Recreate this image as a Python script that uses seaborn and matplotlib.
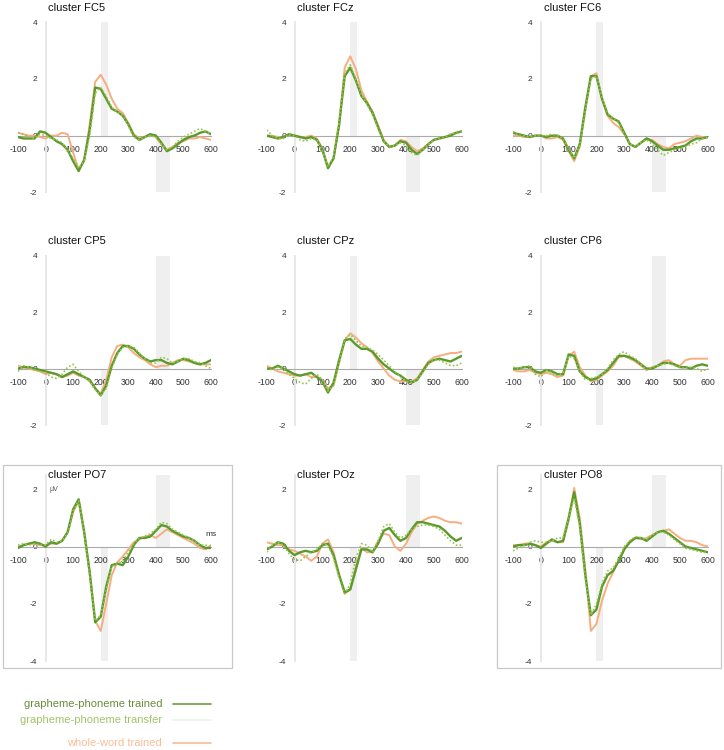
import matplotlib
matplotlib.use('Agg')
import pandas as pd
import matplotlib.pyplot as plt
from matplotlib.lines import Line2D
from matplotlib.patches import Rectangle
import seaborn as sns

# time axis (ms), one sample every 20 ms
times = list(range(-100, 601, 20))

# ERP amplitudes (uV), per cluster and condition
fc5_trained = [-0.05, -0.1, -0.1, -0.1, 0.15, 0.1, -0.05, -0.2, -0.3, -0.5, -0.9, -1.25,
               -0.85, 0.2, 1.7, 1.65, 1.3, 0.95, 0.85, 0.7, 0.4, 0.0, -0.15, -0.05,
               0.05, 0.0, -0.25, -0.55, -0.45, -0.3, -0.15, -0.05, 0.0, 0.1, 0.15, 0.05]
fc5_transfer = [0.1, 0.05, -0.05, -0.1, 0.05, 0.0, -0.1, -0.15, -0.25, -0.5, -0.8, -1.15,
                -0.9, 0.0, 1.5, 1.7, 1.4, 1.0, 0.85, 0.7, 0.35, -0.05, -0.15, -0.05,
                0.0, -0.05, -0.3, -0.5, -0.4, -0.2, -0.05, 0.05, 0.15, 0.25, 0.15, 0.05]
fc5_whole = [0.1, 0.05, 0.0, 0.0, -0.05, -0.1, 0.0, 0.0, 0.1, 0.05, -0.6, -1.2,
             -0.9, 0.4, 1.9, 2.15, 1.8, 1.3, 0.95, 0.8, 0.45, 0.05, -0.1, -0.05,
             0.05, -0.05, -0.3, -0.5, -0.4, -0.25, -0.2, -0.1, -0.1, -0.05, -0.1, -0.15]

fcz_trained = [0.0, -0.05, -0.1, -0.05, 0.05, 0.0, -0.05, -0.1, -0.05, -0.15, -0.5, -1.15,
               -0.8, 0.4, 2.1, 2.4, 1.95, 1.4, 1.15, 0.8, 0.3, -0.2, -0.4, -0.35,
               -0.2, -0.25, -0.5, -0.65, -0.5, -0.3, -0.15, -0.1, -0.05, 0.0, 0.1, 0.15]
fcz_transfer = [0.2, 0.0, -0.1, -0.1, 0.05, 0.0, -0.15, -0.2, -0.1, -0.15, -0.55, -1.1,
                -0.75, 0.5, 2.2, 2.5, 2.0, 1.45, 1.1, 0.75, 0.25, -0.2, -0.4, -0.35,
                -0.25, -0.35, -0.6, -0.7, -0.5, -0.3, -0.15, -0.1, -0.05, 0.05, 0.1, 0.15]
fcz_whole = [0.0, 0.0, -0.05, -0.05, 0.05, 0.0, -0.05, -0.05, 0.0, -0.1, -0.45, -1.1,
             -0.8, 0.35, 2.4, 2.8, 2.35, 1.6, 1.2, 0.85, 0.35, -0.15, -0.4, -0.35,
             -0.15, -0.2, -0.4, -0.55, -0.45, -0.3, -0.15, -0.1, -0.05, 0.05, 0.1, 0.15]

fc6_trained = [0.1, 0.05, 0.0, -0.05, 0.0, 0.0, -0.05, 0.0, 0.0, -0.1, -0.5, -0.8,
               -0.3, 1.0, 2.1, 2.1, 1.3, 0.75, 0.6, 0.5, 0.1, -0.3, -0.4, -0.25,
               -0.1, -0.2, -0.35, -0.5, -0.5, -0.45, -0.4, -0.35, -0.2, -0.1, -0.1, -0.05]
fc6_transfer = [0.15, 0.0, 0.0, -0.05, 0.0, 0.0, 0.0, 0.05, 0.0, -0.1, -0.45, -0.8,
                -0.35, 0.9, 2.0, 2.1, 1.35, 0.8, 0.6, 0.45, 0.05, -0.3, -0.4, -0.25,
                -0.15, -0.3, -0.5, -0.7, -0.6, -0.5, -0.45, -0.4, -0.3, -0.25, -0.1, -0.05]
fc6_whole = [0.0, 0.0, -0.05, -0.05, 0.0, 0.0, -0.1, -0.1, -0.05, -0.15, -0.55, -0.9,
             -0.4, 0.9, 2.1, 2.2, 1.3, 0.7, 0.45, 0.3, 0.05, -0.3, -0.4, -0.25,
             -0.1, -0.15, -0.3, -0.4, -0.45, -0.3, -0.25, -0.2, -0.1, 0.0, -0.05, -0.05]

cp5_trained = [0.0, 0.05, 0.05, 0.0, -0.05, -0.1, -0.15, -0.2, -0.3, -0.2, -0.1, -0.2,
               -0.3, -0.4, -0.7, -0.95, -0.6, 0.1, 0.55, 0.8, 0.8, 0.7, 0.5, 0.35,
               0.25, 0.3, 0.3, 0.2, 0.15, 0.25, 0.35, 0.3, 0.2, 0.15, 0.2, 0.3]
cp5_transfer = [-0.1, 0.1, 0.05, -0.05, -0.1, -0.15, -0.3, -0.35, -0.2, 0.05, 0.15, -0.1,
                -0.3, -0.45, -0.75, -0.95, -0.7, 0.0, 0.5, 0.75, 0.8, 0.75, 0.55, 0.35,
                0.2, 0.2, 0.4, 0.35, 0.2, 0.25, 0.35, 0.35, 0.25, 0.2, 0.1, 0.0]
cp5_whole = [0.1, 0.05, 0.0, -0.05, -0.1, -0.2, -0.15, -0.2, -0.3, -0.25, -0.15, -0.25,
             -0.3, -0.45, -0.7, -0.9, -0.4, 0.4, 0.8, 0.85, 0.75, 0.55, 0.4, 0.3,
             0.15, 0.05, 0.1, 0.1, 0.2, 0.3, 0.3, 0.25, 0.2, 0.15, 0.15, 0.15]

cpz_trained = [0.0, 0.0, 0.1, 0.0, -0.1, -0.2, -0.25, -0.2, -0.15, -0.3, -0.45, -0.85,
               -0.5, 0.3, 1.0, 1.05, 0.85, 0.7, 0.7, 0.6, 0.35, 0.15, 0.0, -0.15,
               -0.25, -0.4, -0.5, -0.4, -0.1, 0.2, 0.3, 0.35, 0.3, 0.25, 0.35, 0.45]
cpz_transfer = [0.05, -0.05, 0.05, 0.0, -0.2, -0.35, -0.5, -0.55, -0.35, -0.2, -0.4, -0.8,
                -0.6, 0.2, 1.05, 1.2, 1.0, 0.8, 0.75, 0.65, 0.5, 0.3, 0.1, -0.1,
                -0.3, -0.45, -0.5, -0.4, -0.15, 0.15, 0.3, 0.3, 0.2, 0.1, 0.1, 0.2]
cpz_whole = [0.1, 0.0, -0.1, -0.15, -0.2, -0.25, -0.25, -0.2, -0.3, -0.3, -0.4, -0.7,
             -0.6, 0.2, 1.0, 1.25, 1.1, 0.9, 0.75, 0.55, 0.25, 0.0, -0.25, -0.4,
             -0.45, -0.45, -0.45, -0.35, -0.05, 0.25, 0.4, 0.45, 0.5, 0.55, 0.55, 0.6]

cp6_trained = [0.0, 0.0, 0.05, 0.05, -0.1, -0.15, -0.05, -0.1, -0.2, -0.2, 0.5, 0.45,
               -0.1, -0.3, -0.4, -0.35, -0.2, -0.05, 0.2, 0.45, 0.45, 0.4, 0.3, 0.15,
               0.0, 0.0, 0.1, 0.2, 0.2, 0.15, 0.05, 0.05, 0.0, 0.1, 0.15, 0.1]
cp6_transfer = [0.05, 0.0, 0.05, 0.1, -0.2, -0.3, -0.05, -0.15, -0.25, -0.15, 0.45, 0.35,
                -0.1, -0.4, -0.35, -0.3, -0.2, 0.0, 0.3, 0.5, 0.6, 0.45, 0.35, 0.15,
                -0.05, 0.05, 0.1, 0.15, 0.2, 0.1, 0.05, 0.0, 0.05, 0.0, -0.1, 0.0]
cp6_whole = [-0.05, -0.1, -0.1, -0.05, -0.15, -0.2, -0.15, -0.2, -0.3, -0.25, 0.45, 0.6,
             0.05, -0.25, -0.45, -0.4, -0.25, -0.1, 0.1, 0.4, 0.45, 0.35, 0.25, 0.1,
             -0.05, 0.05, 0.1, 0.25, 0.3, 0.15, 0.1, 0.3, 0.35, 0.35, 0.35, 0.35]

po7_trained = [-0.05, 0.05, 0.1, 0.15, 0.1, 0.0, 0.15, 0.1, 0.2, 0.5, 1.3, 1.65,
               0.5, -0.9, -2.65, -2.45, -1.4, -0.65, -0.6, -0.65, -0.35, 0.05, 0.3, 0.3,
               0.35, 0.55, 0.75, 0.7, 0.55, 0.45, 0.35, 0.3, 0.2, 0.05, -0.05, -0.05]
po7_transfer = [0.05, 0.1, 0.05, 0.1, 0.05, 0.05, 0.25, 0.15, 0.2, 0.45, 1.25, 1.6,
                0.5, -1.0, -2.6, -2.4, -1.5, -0.7, -0.6, -0.5, -0.2, 0.1, 0.3, 0.35,
                0.45, 0.6, 0.85, 0.8, 0.6, 0.5, 0.4, 0.3, 0.2, 0.05, 0.05, 0.0]
po7_whole = [0.0, 0.05, 0.1, 0.1, 0.05, 0.05, 0.1, 0.1, 0.2, 0.5, 1.2, 1.6,
             0.55, -0.9, -2.6, -2.95, -2.0, -1.0, -0.55, -0.35, -0.1, 0.15, 0.25, 0.35,
             0.4, 0.3, 0.45, 0.6, 0.5, 0.4, 0.3, 0.2, 0.1, -0.05, -0.1, 0.05]

poz_trained = [-0.1, 0.0, 0.15, 0.1, -0.15, -0.3, -0.2, -0.15, -0.2, -0.15, 0.05, 0.1,
               -0.3, -1.0, -1.6, -1.5, -0.8, -0.1, -0.1, -0.2, 0.1, 0.55, 0.65, 0.4,
               0.2, 0.3, 0.6, 0.85, 0.85, 0.8, 0.75, 0.7, 0.55, 0.35, 0.2, 0.3]
poz_transfer = [-0.2, 0.05, 0.15, 0.05, -0.25, -0.45, -0.5, -0.35, -0.2, -0.1, 0.1, 0.05,
                -0.4, -1.1, -1.65, -1.3, -0.4, 0.1, 0.05, -0.2, 0.2, 0.7, 0.8, 0.5,
                0.3, 0.4, 0.6, 0.7, 0.75, 0.75, 0.7, 0.6, 0.4, 0.2, 0.05, 0.05]
poz_whole = [0.15, 0.1, 0.05, 0.05, -0.1, -0.15, -0.25, -0.35, -0.5, -0.35, 0.1, 0.25,
             -0.2, -1.0, -1.65, -1.5, -0.7, -0.05, -0.2, -0.2, 0.2, 0.45, 0.4, 0.0,
             -0.15, 0.1, 0.5, 0.8, 0.9, 1.0, 1.05, 1.0, 0.9, 0.85, 0.85, 0.8]

po8_trained = [0.0, 0.05, 0.05, 0.1, 0.05, -0.05, 0.1, 0.25, 0.15, 0.2, 1.0, 1.9,
               0.8, -1.0, -2.4, -2.2, -1.4, -1.0, -0.85, -0.5, -0.1, 0.15, 0.3, 0.3,
               0.2, 0.35, 0.5, 0.55, 0.45, 0.3, 0.15, 0.0, -0.05, -0.1, -0.15, -0.2]
po8_transfer = [-0.15, -0.05, 0.05, 0.15, 0.2, 0.15, 0.15, 0.2, 0.3, 0.3, 1.0, 1.7,
                0.7, -1.1, -2.4, -2.0, -1.3, -0.85, -0.75, -0.4, 0.0, 0.2, 0.35, 0.3,
                0.25, 0.4, 0.5, 0.5, 0.4, 0.25, 0.1, -0.05, -0.1, -0.15, -0.2, -0.2]
po8_whole = [0.05, 0.05, 0.1, 0.1, 0.05, 0.0, 0.15, 0.2, 0.15, 0.15, 0.9, 2.05,
             1.0, -0.8, -2.95, -2.7, -1.9, -1.3, -0.9, -0.5, -0.1, 0.2, 0.3, 0.25,
             0.3, 0.4, 0.5, 0.55, 0.6, 0.45, 0.3, 0.2, 0.2, 0.15, 0.05, 0.0]

cluster_names = ['FC5', 'FCz', 'FC6', 'CP5', 'CPz', 'CP6', 'PO7', 'POz', 'PO8']
# analysis windows (ms) and whether the early window is shaded above (+1) or below (-1) zero
windows = [(200, 225), (400, 450)]
early_side = [1, 1, 1, -1, 1, -1, -1, -1, -1]
conditions = ['grapheme-phoneme trained', 'grapheme-phoneme transfer', 'whole-word trained']

series = [
    (fc5_trained, fc5_transfer, fc5_whole), (fcz_trained, fcz_transfer, fcz_whole),
    (fc6_trained, fc6_transfer, fc6_whole), (cp5_trained, cp5_transfer, cp5_whole),
    (cpz_trained, cpz_transfer, cpz_whole), (cp6_trained, cp6_transfer, cp6_whole),
    (po7_trained, po7_transfer, po7_whole), (poz_trained, poz_transfer, poz_whole),
    (po8_trained, po8_transfer, po8_whole),
]

col_trained = '#5a9a2c'
col_transfer = '#98c44c'
col_whole = '#f6ae80'

sns.set_style('white')
plt.rcParams['font.family'] = ['Liberation Sans', 'DejaVu Sans']
plt.rcParams['axes.unicode_minus'] = False

W, H = 724, 750
fig = plt.figure(figsize=(W / 100, H / 100), dpi=100)

# panel boxes in pixels: (left, width) per column, (top, bottom) per row
cols_px = [(18, 193), (266.7, 195), (513, 194.7)]
rows_px = [(22.3, 192.3), (255.7, 425), (475, 661)]
row_ylim = [(-2, 4), (-2, 4), (-4, 2.5)]
row_yticks = [[-2, 0, 2, 4], [-2, 0, 2, 4], [-4, -2, 0, 2]]

for i, name in enumerate(cluster_names):
    r, c = divmod(i, 3)
    left, width = cols_px[c]
    top, bottom = rows_px[r]
    ax = fig.add_axes([left / W, 1 - bottom / H, width / W, (bottom - top) / H])
    ylo, yhi = row_ylim[r]
    zero_frac = (0 - ylo) / (yhi - ylo)

    # shaded analysis windows
    for k, (t0, t1) in enumerate(windows):
        side = early_side[i] if k == 0 else -early_side[i]
        if side > 0:
            ax.axvspan(t0, t1, ymin=zero_frac, ymax=1, color='#efefef', lw=0, zorder=0)
        else:
            ax.axvspan(t0, t1, ymin=0, ymax=zero_frac, color='#efefef', lw=0, zorder=0)

    trained, transfer, whole = series[i]
    df = pd.DataFrame({'time': times * 3,
                       'uV': whole + trained + transfer,
                       'condition': [conditions[2]] * len(times) + [conditions[0]] * len(times)
                       + [conditions[1]] * len(times)})
    sns.lineplot(data=df[df.condition == conditions[2]], x='time', y='uV', ax=ax,
                 color=col_whole, linewidth=1.4, zorder=3)
    sns.lineplot(data=df[df.condition == conditions[0]], x='time', y='uV', ax=ax,
                 color=col_trained, linewidth=1.7, zorder=4)
    sns.lineplot(data=df[df.condition == conditions[1]], x='time', y='uV', ax=ax,
                 color=col_transfer, linewidth=1.2, linestyle=(0, (1, 1.3)), zorder=5)

    ax.set_xlim(-100, 600)
    ax.set_ylim(ylo, yhi)
    ax.set_xlabel('')
    ax.set_ylabel('')
    ax.set_facecolor('none')
    for s in ['top', 'right']:
        ax.spines[s].set_visible(False)
    ax.spines['left'].set_position(('data', 0))
    ax.spines['left'].set_color('#e8e8e8')
    ax.spines['left'].set_linewidth(1.4)
    ax.spines['left'].set_zorder(1)
    ax.spines['bottom'].set_position(('data', 0))
    ax.spines['bottom'].set_color('#aaaaaa')
    ax.spines['bottom'].set_linewidth(0.8)
    ax.spines['bottom'].set_zorder(2)

    ax.set_xticks(range(-100, 601, 100))
    ax.set_xticks(range(-50, 600, 100), minor=True)
    ax.set_yticks(row_yticks[r])
    ax.set_yticklabels([str(v) for v in row_yticks[r]])
    ax.tick_params(axis='x', which='major', length=3, direction='inout', color='#aaaaaa',
                   width=0.6, pad=5, labelsize=6.3, labelcolor='#333333')
    ax.tick_params(axis='x', which='minor', length=2, direction='inout', color='#aaaaaa',
                   width=0.6)
    ax.tick_params(axis='y', length=0, pad=6, labelsize=6.0, labelcolor='#333333')
    for lab in ax.get_xticklabels():
        lab.set_zorder(6)

    offset = 10.5 if r < 2 else 0
    ax.annotate(f'cluster {name}', xy=(10, 1), xycoords=('data', 'axes fraction'),
                xytext=(0, offset), textcoords='offset points', ha='left', va='center',
                fontsize=8, color='#111111', annotation_clip=False)

    if name == 'PO7':
        ax.text(15, 2, '\u00b5V', fontsize=5, color='#555555', ha='left', va='center')
        ax.text(600, 0.3, 'ms', fontsize=6, color='#333333', ha='center', va='bottom')

# frames around PO7 and PO8
for (x0, x1) in [(2.7, 231.7), (496.7, 720.5)]:
    fig.patches.append(Rectangle((x0 / W, 1 - 668 / H), (x1 - x0) / W, (668 - 465) / H,
                                 transform=fig.transFigure, fill=False,
                                 edgecolor='#c8c8c8', linewidth=0.9))

# legend at bottom left
legend_rows = [(704.3, conditions[0], '#6a8c3c', '#6d9d3f'),
               (720.0, conditions[1], '#a2c46a', '#eef3e8'),
               (742.7, conditions[2], '#f8bd98', '#f7b999')]
for y, label, tcol, lcol in legend_rows:
    fig.text(162 / W, 1 - y / H, label, ha='right', va='center', fontsize=8, color=tcol)
    fig.lines.append(Line2D([173.3 / W, 210.7 / W], [1 - y / H, 1 - y / H],
                            transform=fig.transFigure, color=lcol, linewidth=1.2))

fig.savefig('out.png', dpi=100)
